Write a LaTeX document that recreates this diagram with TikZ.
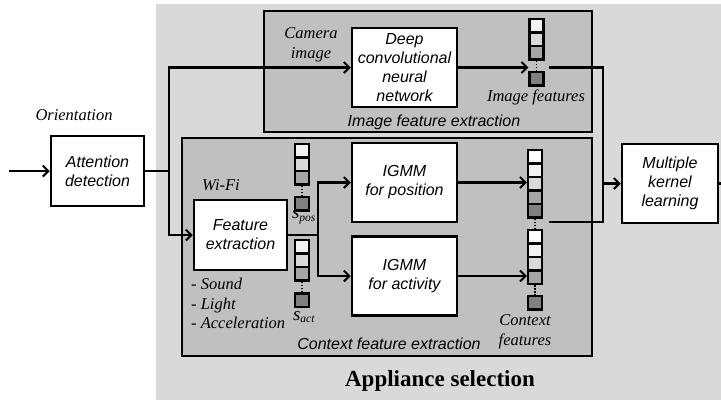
\documentclass[tikz,border=0pt]{standalone}
\usepackage{fontspec}
\setmainfont{Liberation Serif}
\setsansfont{Liberation Sans}
\usetikzlibrary{arrows.meta}
\definecolor{bgc}{HTML}{D9D9D9}
\definecolor{panelc}{HTML}{C0C0C0}
\definecolor{ca}{HTML}{F2F2F2}
\definecolor{cb}{HTML}{D9D9D9}
\definecolor{cc}{HTML}{A6A6A6}
\definecolor{cd}{HTML}{808080}
\begin{document}
\begin{tikzpicture}[x=1pt,y=-1pt,
  box/.style={draw, line width=2.5pt, fill=white, inner sep=0pt, align=center, font=\fontsize{16}{19}\selectfont\sffamily\itshape},
  panel/.style={draw, line width=2.6pt, fill=panelc, inner sep=0pt},
  cell/.style={draw, line width=2.2pt, minimum width=14pt, minimum height=13.5pt, inner sep=0pt},
  conn/.style={line width=2.1pt},
  arr/.style={conn, -{Straight Barb[length=5.5pt,width=11pt,line width=2pt]}},
  lbl/.style={font=\fontsize{16.5}{19.5}\selectfont\itshape, align=center, inner sep=0pt},
  slbl/.style={font=\fontsize{16}{19}\selectfont\sffamily\itshape, inner sep=0pt},
  dots/.style={line width=1.6pt, dash pattern=on 1.5pt off 1.5pt}
]
\useasboundingbox (0,0) rectangle (721,400);
\fill[bgc] (156,4) rectangle (721,400);

% panels
\node[panel, minimum width=328pt, minimum height=121pt] (imgp) at (428,71.5) {};
\node[panel, minimum width=410pt, minimum height=218pt] (ctxp) at (387,247) {};

% boxes
\node[box, minimum width=93pt, minimum height=70pt] (att) at (97.5,171) {Attention\\detection};
\node[box, minimum width=105pt, minimum height=79pt] (deep) at (404.5,67.5) {Deep\\convolutional\\neural\\network};
\node[box, minimum width=93pt, minimum height=70pt] (feat) at (240.5,235) {Feature\\extraction};
\node[box, minimum width=105pt, minimum height=79pt] (igpos) at (404.5,182.5) {IGMM\\for position};
\node[box, minimum width=105pt, minimum height=79pt] (igact) at (404.5,276) {IGMM\\for activity};
\node[box, minimum width=96pt, minimum height=79pt] (mkl) at (670,183.5) {Multiple\\kernel\\learning};

% image feature vector
\node[cell, fill=ca] (ia) at (536.5,25.75) {};
\node[cell, fill=cb] (ib) at (536.5,39.25) {};
\node[cell, fill=cc] (ic) at (536.5,52.75) {};
\node[cell, fill=cd] (id) at (536.5,78.75) {};
\draw[dots] (ic.south) -- (id.north);

% s_pos
\node[cell, fill=ca] (pa) at (302,150.75) {};
\node[cell, fill=cb] (pb) at (302,164.25) {};
\node[cell, fill=cc] (pc) at (302,177.75) {};
\node[cell, fill=cd] (pd) at (302,203.75) {};
\draw[dots] (pc.south) -- (pd.north);

% s_act
\node[cell, fill=ca] (aa) at (302,246.75) {};
\node[cell, fill=cb] (ab) at (302,260.25) {};
\node[cell, fill=cc] (ac) at (302,273.75) {};
\node[cell, fill=cd] (ad) at (302,300.25) {};
\draw[dots] (ac.south) -- (ad.north);

% context features
\node[cell, fill=white] (u1) at (535,156.75) {};
\node[cell, fill=ca] (u2) at (535,170.25) {};
\node[cell, fill=cb] (u3) at (535,183.75) {};
\node[cell, fill=cc] (u4) at (535,197.25) {};
\node[cell, fill=cd] (u5) at (535,210.75) {};
\node[cell, fill=white] (l1) at (535,236.75) {};
\node[cell, fill=ca] (l2) at (535,250.25) {};
\node[cell, fill=cb] (l3) at (535,263.75) {};
\node[cell, fill=cc] (l4) at (535,277.25) {};
\node[cell, fill=cd] (l5) at (535,302.75) {};
\draw[dots] (u5.south) -- (l1.north);
\draw[dots] (l4.south) -- (l5.north);

% labels
\node[lbl] (orient) at (74,115) {Orientation};
\node[lbl] (cam) at (311,45) {Camera\\image};
\node[lbl] (imgf) at (536,97) {Image features};
\node[slbl] (imgx) at (434,122) {Image feature extraction};
\node[lbl] (wifi) at (221,185) {Wi-Fi};
\node[lbl, align=left, anchor=west] (sens) at (191,303.5) {- Sound\\- Light\\- Acceleration};
\node[lbl] (spl) at (304,217) {{\fontsize{19}{19}\selectfont s}\textsubscript{pos}};
\node[lbl] (sal) at (304,317) {{\fontsize{19}{19}\selectfont s}\textsubscript{act}};
\node[lbl] (ctxf) at (525,332) {Context\\features};
\node[slbl] (ctxx) at (389,344) {Context feature extraction};
\node[font=\fontsize{23}{26}\selectfont\bfseries, inner sep=0pt] (app) at (440,381) {Appliance selection};

% connectors
\coordinate (in) at (9,171);
\draw[arr] (in) -- (att.west);
\coordinate (j1) at (169,171);
\draw[conn] (att.east) -- (j1);
\draw[arr] (j1) |- (deep.west);
\draw[arr] (j1) |- (feat.west);
\coordinate (j2) at (318,235);
\draw[conn] (feat.east) -- (j2);
\draw[arr] (j2) |- (igpos.west);
\draw[arr] (j2) |- (igact.west);
\draw[arr] (deep.east) -- (deep.east -| ia.west);
\draw[arr] (igpos.east) -- (igpos.east -| u3.west);
\draw[arr] (igact.east) -- (igact.east -| l4.west);
\coordinate (o1) at (549,67.5);
\coordinate (o2) at (549,222);
\coordinate (j3) at (603,183.5);
\draw[conn] (o1) -| (j3) |- (o2);
\draw[arr] (j3) -- (mkl.west);
\coordinate (out) at (721,183.5);
\draw[conn] (mkl.east) -- (out);
\end{tikzpicture}
\end{document}
